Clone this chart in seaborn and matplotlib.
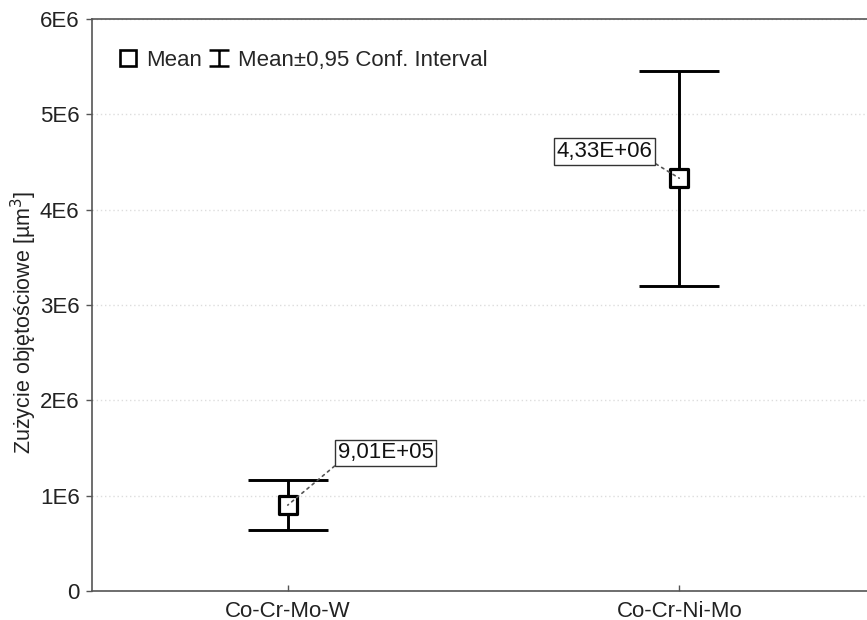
import matplotlib
matplotlib.use("Agg")
import matplotlib.pyplot as plt
from matplotlib.lines import Line2D
from matplotlib.path import Path
import seaborn as sns
import pandas as pd

categories = ["Co-Cr-Mo-W", "Co-Cr-Ni-Mo"]
means = [9.01e5, 4.33e6]
ci_low = [6.45e5, 3.20e6]
ci_high = [1.165e6, 5.455e6]
labels = ["9,01E+05", "4,33E+06"]
yticks = [0, 1e6, 2e6, 3e6, 4e6, 5e6, 6e6]
ytick_labels = ["0", "1E6", "2E6", "3E6", "4E6", "5E6", "6E6"]

sns.set_theme(style="white")
plt.rcParams['font.family'] = ['Liberation Sans', 'DejaVu Sans']

fig = plt.figure(figsize=(8.67, 6.2), dpi=100)
ax = fig.add_axes([92/867, 29/620, (875-92)/867, (591-19)/620])

df = pd.DataFrame({"cat": categories, "mean": means})
pos = list(range(len(categories)))
lower = [m - l for m, l in zip(means, ci_low)]
upper = [h - m for m, h in zip(means, ci_high)]
ax.errorbar(pos, means, yerr=[lower, upper], fmt='none', ecolor='black',
            elinewidth=2.1, capsize=29, capthick=2.1, zorder=3)
sns.scatterplot(data=df, x="cat", y="mean", marker='s', s=150,
                facecolor='white', edgecolor='black', linewidth=2.3,
                zorder=4, ax=ax)

ax.set_xlim(-0.5, 1.5)
ax.set_ylim(0, 6e6)
ax.set_yticks(yticks)
ax.set_yticklabels(ytick_labels)
ax.set_xlabel("")
ax.set_ylabel("Zużycie objętościowe [µm$^3$]", fontsize=15.5, color='#222222')
ax.yaxis.set_label_coords(-0.068, 0.47)
ax.tick_params(axis='y', direction='out', length=4, width=1, color='#555555',
               labelsize=16, labelcolor='#222222', left=True, pad=5)
ax.tick_params(axis='x', direction='in', length=4, width=1, color='#555555',
               labelsize=16, labelcolor='#222222', bottom=True, pad=7)
ax.yaxis.grid(True, linestyle=(0, (1, 2)), color='#dddddd', linewidth=1)
ax.xaxis.grid(False)
for s in ['left', 'bottom', 'top']:
    ax.spines[s].set_color('#555555')
    ax.spines[s].set_linewidth(1.2)
ax.spines['right'].set_visible(False)

# annotations
ann_pos = [(0.25, 1.448e6, (0, 0)), (0.81, 4.61e6, (1, 0))]
for i, (tx, ty, rp) in enumerate(ann_pos):
    ax.annotate(labels[i], xy=(pos[i], means[i]), xytext=(tx, ty),
                ha='center', va='center', fontsize=16, color='#111111',
                bbox=dict(boxstyle='square,pad=0.12', fc='white', ec='#333333', lw=1),
                arrowprops=dict(arrowstyle='-', linestyle=(0, (1.5, 2.5)),
                                color='#555555', lw=1.2, relpos=rp,
                                shrinkA=0, shrinkB=0),
                zorder=5)

# legend
ibeam = Path([(-1, 0.8), (1, 0.8), (0, 0.8), (0, -0.8), (-1, -0.8), (1, -0.8)],
             [Path.MOVETO, Path.LINETO, Path.MOVETO, Path.LINETO, Path.MOVETO, Path.LINETO])
h1 = Line2D([], [], linestyle='none', marker='s', markersize=11.5,
            markerfacecolor='white', markeredgecolor='black', markeredgewidth=1.9)
h2 = Line2D([], [], linestyle='none', marker=ibeam, markersize=14.5,
            markerfacecolor='none', markeredgecolor='black', markeredgewidth=1.8)
leg = ax.legend([h1, h2], ["Mean", "Mean±0,95 Conf. Interval"], loc='center left',
                bbox_to_anchor=(0.034, 0.927), ncol=2, frameon=False, fontsize=16,
                handlelength=0.8, handletextpad=0.45, columnspacing=0.35,
                borderpad=0, borderaxespad=0)

fig.savefig("out.png", dpi=100, facecolor='white')
